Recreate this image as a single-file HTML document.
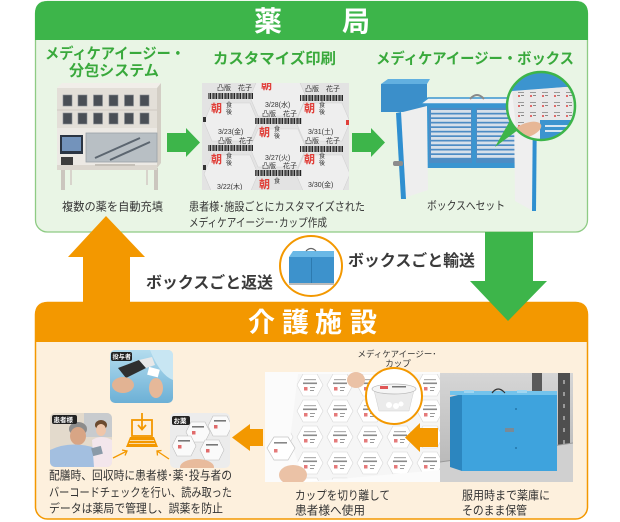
<!DOCTYPE html>
<html><head><meta charset="utf-8">
<style>
html,body{margin:0;padding:0;background:#fff;}
svg{display:block;}
text{font-family:"Liberation Sans","Noto Sans CJK JP",sans-serif;}
</style></head><body>
<svg width="620" height="522" viewBox="0 0 620 522" xmlns="http://www.w3.org/2000/svg">
<defs>
 <pattern id="bc" width="6" height="10" patternUnits="userSpaceOnUse">
  <rect x="0" y="0" width="1.2" height="10" fill="#222"/>
  <rect x="2" y="0" width="0.6" height="10" fill="#222"/>
  <rect x="3.2" y="0" width="1.4" height="10" fill="#222"/>
  <rect x="5.2" y="0" width="0.5" height="10" fill="#222"/>
 </pattern>
 <pattern id="hx" x="265" y="372" width="30" height="26" patternUnits="userSpaceOnUse">
  <rect width="30" height="26" fill="#f6f6f6"/>
  <polygon points="2,13 8,2 22,2 28,13 22,24 8,24" fill="#fff" stroke="#d6d6d6" stroke-width="0.6"/>
  <rect x="9" y="7" width="12" height="1.2" fill="#b0b0b0"/>
  <rect x="8" y="10.5" width="14" height="1.6" fill="#8a8a8a"/>
  <rect x="9" y="15" width="3.5" height="3.5" fill="#e57a7a"/>
  <rect x="15" y="15" width="5" height="1" fill="#999"/>
  <rect x="15" y="18" width="4" height="1" fill="#999"/>
 </pattern>
 <pattern id="hxs" x="0" y="0" width="12" height="10" patternUnits="userSpaceOnUse">
  <rect width="12" height="10" fill="#e9e9e9"/>
  <rect x="2" y="2" width="6" height="1" fill="#999"/>
  <rect x="2" y="5" width="2" height="2" fill="#e06a6a"/>
  <rect x="5" y="5" width="3" height="1" fill="#888"/>
 </pattern>
 <linearGradient id="blueg" x1="0" y1="0" x2="0" y2="1">
  <stop offset="0" stop-color="#b3dcee"/><stop offset="1" stop-color="#6cb0d6"/>
 </linearGradient>
 <linearGradient id="grayg" x1="0" y1="0" x2="0" y2="1">
  <stop offset="0" stop-color="#d6d6d6"/><stop offset="1" stop-color="#b4b4b4"/>
 </linearGradient>
 <clipPath id="cSheet"><rect x="202" y="83" width="147" height="107"/></clipPath>
 <clipPath id="cInset"><circle cx="541" cy="106" r="34"/></clipPath>
 <clipPath id="cMid"><ellipse cx="311" cy="266" rx="30" ry="29"/></clipPath>
 <clipPath id="cTouyo"><rect x="110" y="350" width="63" height="53" rx="5"/></clipPath>
 <clipPath id="cKanja"><rect x="50" y="413" width="62" height="54" rx="5"/></clipPath>
 <clipPath id="cOkusuri"><rect x="170" y="413" width="60" height="55" rx="5"/></clipPath>
 <clipPath id="cPhoto"><rect x="265" y="372" width="175" height="110"/></clipPath>
 <clipPath id="cCup"><circle cx="394" cy="396" r="27"/></clipPath>
 <clipPath id="cStore"><rect x="440" y="373" width="133" height="109"/></clipPath>
</defs>

<!-- ===== Green panel (薬局) ===== -->
<rect x="35.5" y="1.5" width="552" height="230.5" rx="12" fill="#e9f5e5" stroke="#8ecb84" stroke-width="1.3"/>
<path d="M35,40 V13.5 Q35,1 47.5,1 H575.5 Q588,1 588,13.5 V40 Z" fill="#3db54a"/>
<text x="254" y="31" font-size="28" font-weight="bold" fill="#fff">薬</text>
<text x="342" y="31" font-size="28" font-weight="bold" fill="#fff">局</text>

<text x="115" y="58.5" font-size="15" font-weight="bold" fill="#39a93c" text-anchor="middle" textLength="140" lengthAdjust="spacingAndGlyphs">メディケアイージー・</text>
<text x="114" y="75.5" font-size="15" font-weight="bold" fill="#39a93c" text-anchor="middle" textLength="90" lengthAdjust="spacingAndGlyphs">分包システム</text>
<text x="213" y="63.5" font-size="15" font-weight="bold" fill="#39a93c" textLength="123" lengthAdjust="spacingAndGlyphs">カスタマイズ印刷</text>
<text x="376" y="63.5" font-size="15" font-weight="bold" fill="#39a93c" textLength="198" lengthAdjust="spacingAndGlyphs">メディケアイージー・ボックス</text>

<!-- Machine -->
<g>
 <rect x="61" y="168" width="4" height="22" fill="#cbc6be"/>
 <rect x="154" y="168" width="4" height="22" fill="#cbc6be"/>
 <rect x="70" y="168" width="2" height="17" fill="#d8d4cc"/>
 <rect x="146" y="168" width="2" height="17" fill="#d8d4cc"/>
 <polygon points="57,88 62,83 161,83 157,88" fill="#f1eee9"/>
 <polygon points="157,88 161,83 161,163 157,168" fill="#d3cec5"/>
 <rect x="57" y="88" width="100" height="40" fill="#e3dfd8"/>
 <line x1="57" y1="110" x2="157" y2="110" stroke="#cfcac2" stroke-width="1"/>
 <g fill="#4a4f56" stroke="#8b8f94" stroke-width="0.6">
  <rect x="63" y="95" width="9" height="11"/><rect x="78" y="95" width="9" height="11"/><rect x="93.5" y="95" width="9" height="11"/><rect x="109" y="95" width="9" height="11"/><rect x="124.5" y="95" width="9" height="11"/><rect x="140" y="95" width="9" height="11"/>
  <rect x="63" y="113" width="9" height="11"/><rect x="78" y="113" width="9" height="11"/><rect x="93.5" y="113" width="9" height="11"/><rect x="109" y="113" width="9" height="11"/><rect x="124.5" y="113" width="9" height="11"/><rect x="140" y="113" width="9" height="11"/>
 </g>
 <rect x="57" y="128" width="100" height="37" fill="#ece9e4"/>
 <rect x="60" y="135" width="23" height="19" fill="#2b3543"/>
 <rect x="62" y="137" width="19" height="14" fill="#7393bb"/>
 <rect x="86" y="133" width="71" height="29" fill="#b8bfc4" stroke="#9aa2a8" stroke-width="0.8"/>
 <path d="M95,158 L140,138 M110,160 L150,142" stroke="#5c6670" stroke-width="2"/>
 <rect x="61" y="157" width="12" height="10" fill="#3d3d3d"/>
 <rect x="57" y="165" width="100" height="5" fill="#dcd7cf"/>
 <rect x="95" y="164" width="40" height="2" fill="#c5c0b8"/>
</g>

<!-- green arrows -->
<polygon points="167,133 186,133 186,128 200,142.5 186,157 186,152 167,152" fill="#3db54a"/>
<polygon points="352,133 371,133 371,128 385,142.5 371,157 371,152 352,152" fill="#3db54a"/>

<!-- Label sheet -->
<g clip-path="url(#cSheet)">
 <rect x="202" y="83" width="147" height="107" fill="#e3e3e3"/>
 <g fill="#eeeeee" stroke="#d2d2d2" stroke-width="0.6">
  <polygon points="204,122 212,103 250,103 258,122 250,141 212,141"/>
  <polygon points="250,97 258,78 298,78 306,97 298,116 258,116"/>
  <polygon points="250,148 258,129 298,129 306,148 298,167 258,167"/>
  <polygon points="296,122 304,103 342,103 350,122 342,141 304,141"/>
  <polygon points="204,174 212,155 250,155 258,174 250,193 212,193"/>
  <polygon points="296,174 304,155 342,155 350,174 342,193 304,193"/>
 </g>
 <g font-size="7" fill="#333">
  <text x="217" y="90">凸版　花子</text>
  <text x="218" y="134">3/23(金)</text>
  <text x="218" y="143">凸版　花子</text>
  <text x="217" y="189">3/22(木)</text>
  <text x="265" y="107">3/28(水)</text>
  <text x="262" y="116">凸版　花子</text>
  <text x="265" y="160">3/27(火)</text>
  <text x="262" y="168">凸版　花子</text>
  <text x="305" y="91">凸版　花子</text>
  <text x="308" y="134">3/31(土)</text>
  <text x="305" y="143">凸版　花子</text>
  <text x="308" y="187">3/30(金)</text>
 </g>
 <rect x="208" y="93" width="45" height="6" fill="url(#bc)"/>
 <rect x="208" y="145" width="45" height="6" fill="url(#bc)"/>
 <rect x="255" y="118" width="47" height="6" fill="url(#bc)"/>
 <rect x="255" y="170" width="47" height="6" fill="url(#bc)"/>
 <rect x="300" y="95" width="43" height="6" fill="url(#bc)"/>
 <rect x="300" y="146" width="43" height="6" fill="url(#bc)"/>
 <g font-size="11" font-weight="bold" fill="#e0403a">
  <text x="211" y="112">朝</text><text x="211" y="163">朝</text>
  <text x="259" y="136">朝</text><text x="259" y="188">朝</text>
  <text x="261" y="89">朝</text>
  <text x="304" y="112">朝</text><text x="304" y="163">朝</text>
 </g>
 <g font-size="6" fill="#333">
  <text x="226" y="107">食</text><text x="226" y="114">後</text>
  <text x="226" y="158">食</text><text x="226" y="165">後</text>
  <text x="274" y="131">食</text><text x="274" y="138">後</text>
  <text x="274" y="183">食</text>
  <text x="319" y="107">食</text><text x="319" y="114">後</text>
  <text x="319" y="158">食</text><text x="319" y="165">後</text>
 </g>
 <rect x="203" y="117" width="3" height="5" fill="#333"/>
 <rect x="203" y="165" width="3" height="5" fill="#333"/>
 <rect x="346" y="120" width="3" height="5" fill="#e0403a"/>
</g>

<!-- Box image -->
<g>
 <polygon points="381,84 388,79 430,79 427,84" fill="#62b0e0"/>
 <rect x="381" y="84" width="46" height="28" fill="#3b8fca"/>
 <polygon points="420,104 428,98 528,98 533,104" fill="#eef1f4" stroke="#3a95d0" stroke-width="1.5"/>
 <path d="M470,99 Q477,91 484,99" stroke="#8a8a8a" fill="none" stroke-width="2"/>
 <rect x="425" y="104" width="95" height="64" fill="#3a95d0"/>
 <rect x="429" y="108" width="87" height="55" fill="#4d8cc4"/>
 <g fill="#d6e0ea">
  <rect x="431" y="110" width="40" height="2.8"/><rect x="477" y="110" width="38" height="2.8"/>
  <rect x="431" y="114.5" width="40" height="2.8"/><rect x="477" y="114.5" width="38" height="2.8"/>
  <rect x="431" y="119" width="40" height="2.8"/><rect x="477" y="119" width="38" height="2.8"/>
  <rect x="431" y="123.5" width="40" height="2.8"/><rect x="477" y="123.5" width="38" height="2.8"/>
  <rect x="431" y="128" width="40" height="2.8"/><rect x="477" y="128" width="38" height="2.8"/>
  <rect x="431" y="132.5" width="40" height="2.8"/><rect x="477" y="132.5" width="38" height="2.8"/>
  <rect x="431" y="137" width="40" height="2.8"/><rect x="477" y="137" width="38" height="2.8"/>
  <rect x="431" y="141.5" width="40" height="2.8"/><rect x="477" y="141.5" width="38" height="2.8"/>
  <rect x="431" y="146" width="40" height="2.8"/><rect x="477" y="146" width="38" height="2.8"/>
  <rect x="431" y="150.5" width="40" height="2.8"/><rect x="477" y="150.5" width="38" height="2.8"/>
  <rect x="431" y="155" width="40" height="2.8"/><rect x="477" y="155" width="38" height="2.8"/>
 </g>
 <rect x="472" y="108" width="4" height="55" fill="#3a95d0"/>
 <polygon points="399,113 427,106 428,190 404,198" fill="#eeeeee"/>
 <polygon points="396,113 401,112 406,199 401,199" fill="#2f8fd0"/>
 <rect x="393" y="161" width="10" height="5" rx="2" fill="#8c8c8c"/>
 <polygon points="514,109 533,100 533,211 515,201" fill="#efefef"/>
 <polygon points="533,100 537,100 536,211 532,211" fill="#2f8fd0"/>
</g>
<!-- inset circle -->
<polygon points="512,117 522,127 495,147" fill="#3db54a"/>
<g clip-path="url(#cInset)">
 <rect x="505" y="70" width="72" height="72" fill="#f2f2f2"/>
 <polygon points="505,72 580,72 580,86 505,92" fill="#3c94cf"/>
 <polygon points="512,91 578,86 580,120 516,128" fill="url(#hxs)"/>
 <rect x="540" y="120" width="40" height="22" fill="#3c94cf"/>
 <rect x="545" y="125" width="35" height="2" fill="#d7e6f2"/>
 <rect x="545" y="130" width="35" height="2" fill="#d7e6f2"/>
 <ellipse cx="527" cy="130" rx="15" ry="7" transform="rotate(-20 527 130)" fill="#e7b796"/>
</g>
<circle cx="541" cy="106" r="34" fill="none" stroke="#3db54a" stroke-width="2.5"/>

<!-- captions green panel -->
<g font-size="11.5" fill="#333">
 <text x="62" y="210.5" textLength="101" lengthAdjust="spacingAndGlyphs">複数の薬を自動充填</text>
 <text x="189" y="210.5" textLength="176" lengthAdjust="spacingAndGlyphs">患者様･施設ごとにカスタマイズされた</text>
 <text x="189" y="226.5" textLength="138" lengthAdjust="spacingAndGlyphs">メディケアイージー･カップ作成</text>
 <text x="427" y="209.5" textLength="78" lengthAdjust="spacingAndGlyphs">ボックスへセット</text>
</g>

<!-- ===== Orange panel (介護施設) ===== -->
<rect x="35.5" y="302.5" width="552" height="216.5" rx="12" fill="#fdf0dd" stroke="#f39800" stroke-width="1.5"/>
<path d="M35,342 V314.5 Q35,302 47.5,302 H575.5 Q588,302 588,314.5 V342 Z" fill="#f39800"/>
<g font-size="27" font-weight="bold" fill="#fff">
 <text x="248" y="332">介</text><text x="282" y="332">護</text><text x="315" y="332">施</text><text x="350" y="332">設</text>
</g>

<!-- up orange arrow -->
<polygon points="106,216 145,257 130,257 130,303 83,303 83,257 68,257" fill="#f39800"/>
<!-- down green arrow -->
<polygon points="485,232 533,232 533,281 547,281 508,321 470,281 485,281" fill="#3db54a"/>

<!-- middle -->
<text x="348" y="266" font-size="16" font-weight="bold" fill="#3a3a3a" textLength="127" lengthAdjust="spacingAndGlyphs">ボックスごと輸送</text>
<text x="146" y="288" font-size="16" font-weight="bold" fill="#3a3a3a" textLength="127" lengthAdjust="spacingAndGlyphs">ボックスごと返送</text>
<ellipse cx="311" cy="266" rx="31" ry="30" fill="#fff" stroke="#f39800" stroke-width="2"/>
<g clip-path="url(#cMid)">
 <polygon points="289,257 293,251 334,251 334,257" fill="#6ab8e6"/>
 <rect x="289" y="257" width="45" height="26" fill="#3d92cc"/>
 <line x1="311.5" y1="258" x2="311.5" y2="283" stroke="#2a74a8" stroke-width="0.8"/>
 <path d="M306,251 Q311,246 316,251" stroke="#666" fill="none" stroke-width="1.2"/>
 <rect x="289" y="283" width="45" height="2" fill="#bbb"/>
</g>

<!-- 投与者 photo -->
<g clip-path="url(#cTouyo)">
 <rect x="110" y="350" width="63" height="53" fill="url(#blueg)"/>
 <path d="M150,350 Q160,375 173,380 L173,350 Z" fill="#c8e6f3"/>
 <polygon points="118,368 139,360 146,368 126,378" fill="#2f2f2f"/>
 <polygon points="139,360 152,357 155,365 146,368" fill="#e8e8e8"/>
 <ellipse cx="123" cy="385" rx="11" ry="8" fill="#e2b393"/>
 <rect x="148" y="368" width="11" height="8" fill="#fff" transform="rotate(15 153 372)"/>
 <ellipse cx="156" cy="388" rx="7" ry="10" fill="#e6b899"/>
</g>
<rect x="111" y="352" width="21" height="9" rx="2" fill="#222"/>
<text x="112.5" y="359" font-size="6.2" font-weight="bold" fill="#fff">投与者</text>

<!-- 患者様 photo -->
<g clip-path="url(#cKanja)">
 <rect x="50" y="413" width="62" height="54" fill="#e3dacc"/>
 <rect x="84" y="413" width="28" height="24" fill="#c8cbce"/>
 <ellipse cx="78" cy="429" rx="9" ry="7" fill="#8c8c8c"/>
 <ellipse cx="78" cy="436" rx="8" ry="9" fill="#d8a585"/>
 <path d="M50,450 Q70,440 96,448 L100,467 L50,467 Z" fill="#a3bfe0"/>
 <ellipse cx="101" cy="425" rx="6" ry="5" fill="#6b4a2f"/>
 <ellipse cx="101" cy="430" rx="5" ry="6" fill="#efc6aa"/>
 <path d="M92,440 Q101,434 112,440 L112,467 L94,467 Z" fill="#f3e6ec"/>
 <rect x="92" y="447" width="10" height="8" fill="#8a9aa8" transform="rotate(-15 97 451)"/>
</g>
<rect x="52" y="415" width="25" height="9" rx="2" fill="#222"/>
<text x="53.5" y="422" font-size="6.5" font-weight="bold" fill="#fff">患者様</text>

<!-- laptop icon -->
<g stroke="#f39800" fill="none" stroke-width="1.8">
 <rect x="132" y="420" width="20" height="16"/>
 <line x1="142" y1="413" x2="142" y2="429"/>
 <polyline points="138,425 142,429.5 146,425"/>
</g>
<polygon points="130,437 154,437 158,447 126,447" fill="#f39800"/>
<g stroke="#fdf0dd" stroke-width="0.7">
 <line x1="130" y1="440.5" x2="154" y2="440.5"/><line x1="129" y1="443.5" x2="155" y2="443.5"/>
</g>
<!-- small arrows -->
<g stroke="#f39800" stroke-width="1.3" fill="none">
 <line x1="113" y1="458" x2="127" y2="451"/>
 <polyline points="122,450 127,451 125,455.5"/>
 <line x1="169" y1="459" x2="157" y2="451"/>
 <polyline points="157.5,455.5 157,451 161.5,450.5"/>
</g>

<!-- お薬 photo -->
<g clip-path="url(#cOkusuri)">
 <rect x="170" y="413" width="60" height="55" fill="#ececec"/>
 <g fill="#fafafa" stroke="#bdbdbd" stroke-width="0.6">
  <polygon points="186,432 191,422 205,422 210,432 205,442 191,442"/>
  <polygon points="208,426 213,416 227,416 232,426 227,436 213,436"/>
  <polygon points="172,446 177,436 191,436 196,446 191,456 177,456"/>
  <polygon points="200,450 205,440 219,440 224,450 219,460 205,460"/>
 </g>
 <g fill="#777"><rect x="192" y="426" width="12" height="1.6"/><rect x="214" y="420" width="12" height="1.6"/><rect x="178" y="440" width="12" height="1.6"/><rect x="206" y="444" width="12" height="1.6"/></g>
 <g fill="#e06a6a"><rect x="192" y="431" width="3.5" height="3.5"/><rect x="214" y="425" width="3.5" height="3.5"/><rect x="178" y="445" width="3.5" height="3.5"/><rect x="206" y="449" width="3.5" height="3.5"/></g>
 <ellipse cx="197" cy="467" rx="17" ry="8" fill="#e8bb9c"/>
</g>
<rect x="172" y="416" width="18" height="9" rx="2" fill="#222"/>
<text x="173.5" y="423" font-size="6.5" font-weight="bold" fill="#fff">お薬</text>

<!-- big orange arrows bottom -->
<polygon points="263,429 250,429 250,424 232,437.5 250,451 250,446 263,446" fill="#f39800"/>

<!-- sheet photo -->
<g clip-path="url(#cPhoto)">
 <rect x="265" y="372" width="175" height="110" fill="#fbfbfb"/>
 <polygon points="298,374 440,374 440,470 305,482 290,440" fill="url(#hx)"/>
 <polygon points="267,448 274,437 288,437 295,448 288,460 274,460" fill="#fff" stroke="#c5c5c5" stroke-width="0.7"/>
 <rect x="274" y="442" width="13" height="1.6" fill="#888"/>
 <rect x="274" y="449" width="3.5" height="3.5" fill="#e57a7a"/>
 <ellipse cx="293" cy="475" rx="14" ry="10" fill="#ebc2a6"/>
 <ellipse cx="356" cy="380" rx="9" ry="8" fill="#ebc2a6"/>
</g>
<polygon points="438,428 420,428 420,423 405,437.5 420,452 420,447 438,447" fill="#f39800"/>
<!-- cup circle -->
<circle cx="394" cy="396" r="28" fill="#fff" stroke="#f39800" stroke-width="2"/>
<g clip-path="url(#cCup)">
 <path d="M374,390 L414,390 L409,411 L379,411 Z" fill="#ebebeb" stroke="#cfcfcf" stroke-width="0.5"/>
 <ellipse cx="394" cy="389" rx="22" ry="5" fill="#f5f5f5" stroke="#b5b5b5" stroke-width="0.7"/>
 <rect x="380" y="386" width="8" height="3" fill="#e05656"/>
 <rect x="392" y="386" width="14" height="1.5" fill="#777"/>
 <circle cx="389" cy="405" r="3" fill="#fff"/><circle cx="396" cy="406" r="3" fill="#fff"/><circle cx="401" cy="404" r="2.5" fill="#fff"/>
</g>
<text x="397" y="357" font-size="8.5" fill="#333" text-anchor="middle" textLength="79" lengthAdjust="spacingAndGlyphs">メディケアイージー･</text>
<text x="398" y="366.5" font-size="8.5" fill="#333" text-anchor="middle">カップ</text>

<!-- storage photo -->
<g clip-path="url(#cStore)">
 <rect x="440" y="373" width="133" height="109" fill="url(#grayg)"/>
 <rect x="532" y="373" width="10" height="78" fill="#5a5a5a"/>
 <rect x="558" y="373" width="12" height="109" fill="#4f4f4f"/>
 <g fill="#9a9a9a"><rect x="563" y="380" width="2" height="4"/><rect x="563" y="392" width="2" height="4"/><rect x="563" y="404" width="2" height="4"/><rect x="563" y="416" width="2" height="4"/><rect x="563" y="428" width="2" height="4"/><rect x="563" y="440" width="2" height="4"/><rect x="563" y="452" width="2" height="4"/><rect x="563" y="464" width="2" height="4"/></g>
 <polygon points="440,462 573,443 573,482 440,482" fill="#d0d0d0"/>
 <line x1="440" y1="462" x2="573" y2="443" stroke="#9a9a9a" stroke-width="1"/>
 <polygon points="450,397 462,394 462,471 450,467" fill="#2c86bf"/>
 <rect x="462" y="394" width="95" height="77" fill="#3ea3dd"/>
 <rect x="450" y="391" width="107" height="4" fill="#73c3ec"/>
 <rect x="464" y="390" width="10" height="3" fill="#9fd6f2"/>
 <rect x="517" y="390" width="10" height="3" fill="#9fd6f2"/>
 <path d="M492,393 Q498,385 505,393" stroke="#333" fill="none" stroke-width="1.2"/>
 <rect x="505" y="428" width="9" height="4" fill="#7a8a96"/>
 <circle cx="516" cy="409" r="0.9" fill="#1d6a9a"/><circle cx="516" cy="448" r="0.9" fill="#1d6a9a"/>
</g>

<!-- bottom captions -->
<g font-size="12" fill="#333">
 <text x="49" y="479.5" textLength="183" lengthAdjust="spacingAndGlyphs">配膳時、回収時に患者様･薬･投与者の</text>
 <text x="49" y="496.5" textLength="183" lengthAdjust="spacingAndGlyphs">バーコードチェックを行い、読み取った</text>
 <text x="49" y="512.5" textLength="174" lengthAdjust="spacingAndGlyphs">データは薬局で管理し、誤薬を防止</text>
 <text x="295" y="499.5" textLength="95" lengthAdjust="spacingAndGlyphs">カップを切り離して</text>
 <text x="295" y="514.5" textLength="70" lengthAdjust="spacingAndGlyphs">患者様へ使用</text>
 <text x="462" y="499.5" textLength="88" lengthAdjust="spacingAndGlyphs">服用時まで薬庫に</text>
 <text x="462" y="514.5" textLength="65" lengthAdjust="spacingAndGlyphs">そのまま保管</text>
</g>
</svg>
</body></html>
